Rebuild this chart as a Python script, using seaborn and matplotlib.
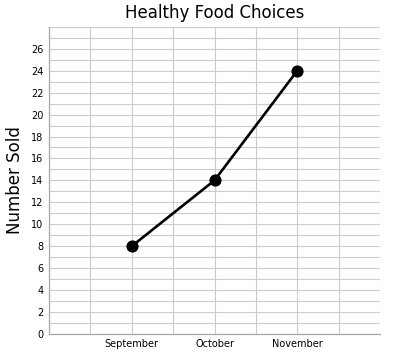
# Healthy Food Choices - line chart of items sold per month

import pandas as pd
import seaborn as sns
import matplotlib.pyplot as plt
from matplotlib.ticker import MultipleLocator

months = ['September', 'October', 'November']
sold = [8, 14, 24]
y_ticks = list(range(0, 27, 2))

df = pd.DataFrame({'month': months, 'sold': sold})

sns.set_style('white')
plt.rcParams['font.family'] = ['DejaVu Sans']

fig = plt.figure(figsize=(4, 3.53), dpi=100)
ax = fig.add_axes([0.1225, 0.054, 0.8275, 0.87])

sns.lineplot(data=df, x='month', y='sold', ax=ax, color='black',
             linewidth=1.9, marker='o', markersize=8, markeredgecolor='black')

ax.set_xlim(-1, 3)
ax.set_ylim(0, 28)
ax.set_yticks(y_ticks)
ax.xaxis.set_minor_locator(MultipleLocator(0.5))
ax.yaxis.set_minor_locator(MultipleLocator(1))
ax.grid(True, which='both', color='#cccccc', linewidth=0.8)
ax.set_axisbelow(True)
ax.tick_params(which='both', length=0, labelsize=7, pad=4, labelcolor='black')

for side in ['top', 'right']:
    ax.spines[side].set_visible(False)
for side in ['left', 'bottom']:
    ax.spines[side].set_color('#a8a8a8')
    ax.spines[side].set_linewidth(0.9)

ax.set_title('Healthy Food Choices', fontsize=12, pad=6, color='black')
ax.set_xlabel('')
ax.set_ylabel('Number Sold', fontsize=12, labelpad=5, color='black')

fig.savefig('out.png', dpi=100)
